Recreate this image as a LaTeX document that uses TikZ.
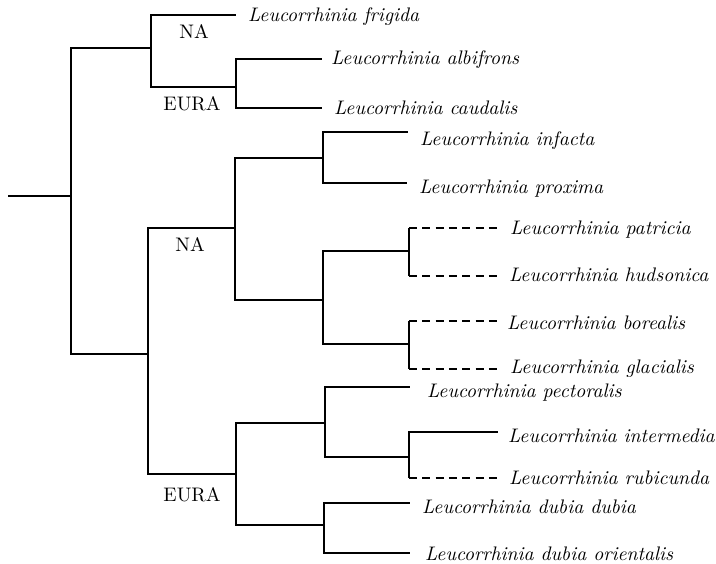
\documentclass[tikz,border=0pt]{standalone}
\usepackage{fontspec}
\usepackage{tikz}
\usetikzlibrary{calc}
\newfontfamily\treefamily{lmroman10-regular.otf}[ItalicFont=lmroman10-italic.otf]
\newcommand{\treefont}{\treefamily\fontsize{19.6}{24}\selectfont}
\tikzset{
  branch/.style={line width=1.4pt},
  lost/.style={branch, dash pattern=on 8pt off 5.3pt},
  taxon/.style={anchor=base west, inner sep=0pt, font=\treefont\itshape},
  region/.style={anchor=base, inner sep=0pt, font=\treefont}
}
\begin{document}
\begin{tikzpicture}[x=1pt,y=-1pt]
\useasboundingbox (0,0) rectangle (716,564);

% ---------------- Inner nodes ----------------
\coordinate (base) at (8,196);
\coordinate (n0) at (71,196);
\coordinate (nA) at (151,48);
\coordinate (nB) at (148,354);
\coordinate (nC) at (236,87);
\coordinate (nD) at (235,228);
\coordinate (nE) at (236,474);
\coordinate (nF) at (323,158);
\coordinate (nG) at (323,300);
\coordinate (nH) at (409,251);
\coordinate (nI) at (409,344);
\coordinate (nJ) at (325,423);
\coordinate (nK) at (324,525);
\coordinate (nL) at (409,457);

% ---------------- Tips ----------------
\coordinate (tFri) at (236,15);
\coordinate (tAlb) at (322,59);
\coordinate (tCau) at (322,108);
\coordinate (tInf) at (408,132);
\coordinate (tPro) at (407,183);
\coordinate (tPat) at (498,228);
\coordinate (tHud) at (498,276);
\coordinate (tBor) at (498,321);
\coordinate (tGla) at (498,369);
\coordinate (tPec) at (410,387);
\coordinate (tInt) at (498,432);
\coordinate (tRub) at (498,478);
\coordinate (tDub) at (410,503);
\coordinate (tOri) at (410,553);

% Branches
\draw[branch] (base) -- (n0);
\foreach \p/\c in {n0/nA, n0/nB, nA/tFri, nA/nC, nC/tAlb, nC/tCau,
                   nB/nD, nB/nE, nD/nF, nD/nG, nF/tInf, nF/tPro,
                   nG/nH, nG/nI, nE/nJ, nE/nK, nJ/tPec, nJ/nL,
                   nL/tInt, nK/tDub, nK/tOri}
  \draw[branch] (\p) |- (\c);
% dashed tips
\foreach \p/\c in {nH/tPat, nH/tHud, nI/tBor, nI/tGla, nL/tRub} {
  \draw[branch] (\p) -- (\p |- \c);
  \draw[lost] (\p |- \c) -- (\c);
}

% ---------------- Labels ----------------
\node[taxon] (fri) at (248,22) {Leucorrhinia frigida};
\node[taxon] (alb) at (331,65) {Leucorrhinia albifrons};
\node[taxon] (cau) at (334,115) {Leucorrhinia caudalis};
\node[taxon] (inf) at (420,146) {Leucorrhinia infacta};
\node[taxon] (pro) at (419,194) {Leucorrhinia proxima};
\node[taxon] (pat) at (510,235) {Leucorrhinia patricia};
\node[taxon] (hud) at (509,282) {Leucorrhinia hudsonica};
\node[taxon] (bor) at (507,330) {Leucorrhinia borealis};
\node[taxon] (gla) at (510,374) {Leucorrhinia glacialis};
\node[taxon] (pec) at (427,398) {Leucorrhinia pectoralis};
\node[taxon] (int) at (508,443) {Leucorrhinia intermedia};
\node[taxon] (rub) at (509,485) {Leucorrhinia rubicunda};
\node[taxon] (dub) at (422,513) {Leucorrhinia dubia dubia};
\node[taxon] (ori) at (425,561) {Leucorrhinia dubia orientalis};

\node[region] (na1) at (194,39) {NA};
\node[region] (eura1) at (192,111) {EURA};
\node[region] (na2) at (190,252) {NA};
\node[region] (eura2) at (192,501) {EURA};
\end{tikzpicture}
\end{document}
